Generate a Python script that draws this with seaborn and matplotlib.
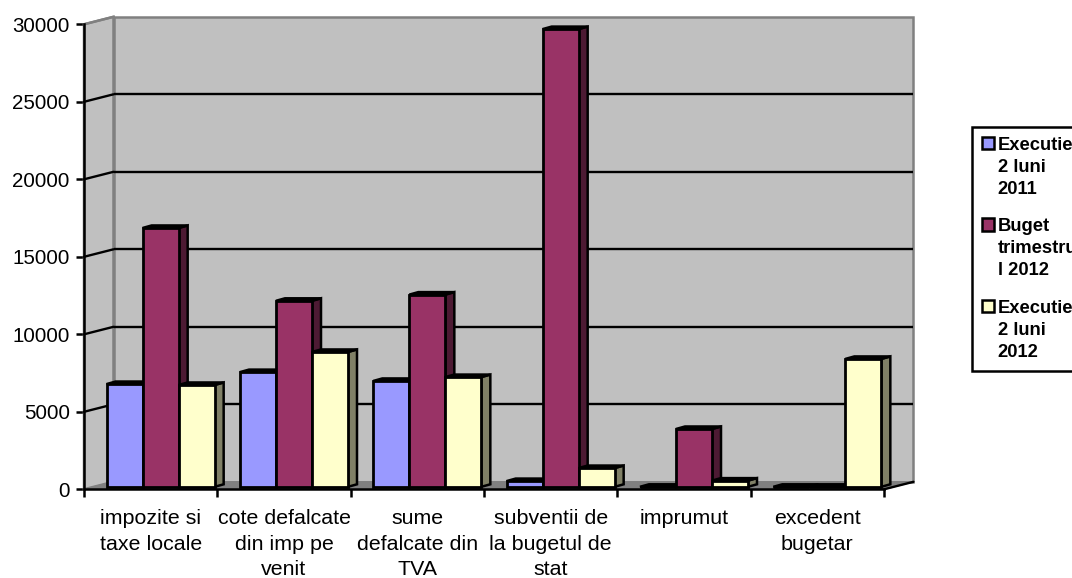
import matplotlib
matplotlib.use("Agg")
import matplotlib.pyplot as plt
from matplotlib.patches import Polygon
from matplotlib.transforms import Affine2D
from matplotlib.offsetbox import HPacker
import pandas as pd
import seaborn as sns

categories = ["impozite si\ntaxe locale", "cote defalcate\ndin imp pe\nvenit",
              "sume\ndefalcate din\nTVA", "subventii de\nla bugetul de\nstat",
              "imprumut", "excedent\nbugetar"]
series_names = ["Executie\n2 luni\n2011", "Buget\ntrimestru\nl 2012", "Executie\n2 luni\n2012"]
executie_2011 = [6630, 7400, 6830, 370, 0, 0]
buget_2012 = [16700, 12000, 12400, 29530, 3730, 0]
executie_2012 = [6570, 8700, 7080, 1210, 400, 8250]
y_ticks = [0, 5000, 10000, 15000, 20000, 25000, 30000]
colors = ["#9999FF", "#993366", "#FFFFCC"]
side_colors = ["#4D4D80", "#4D1A33", "#808066"]
top_colors = ["#7373BF", "#73264D", "#BFBF99"]

W, H = 1072, 578
sns.set_theme(style="white")
plt.rcParams["font.family"] = ["Liberation Sans", "DejaVu Sans"]

df = pd.DataFrame({
    "cat": categories * 3,
    "series": sum([[s] * len(categories) for s in series_names], []),
    "value": executie_2011 + buget_2012 + executie_2012,
})

fig = plt.figure(figsize=(W / 100, H / 100), dpi=100, facecolor="white")
ax = fig.add_axes([84 / W, (H - 489.3) / H, 800 / W, 465 / H])
sns.barplot(data=df, x="cat", y="value", hue="series", order=categories,
            hue_order=series_names, palette=colors, saturation=1, width=0.81,
            gap=0, edgecolor="black", linewidth=2.0, ax=ax, legend=True, err_kws={"linewidth": 0})
handles, labels = ax.get_legend_handles_labels()

ax.set_xlim(-0.5, 5.5)
ax.set_ylim(0, 30000)
ax.set_xlabel("")
ax.set_ylabel("")
ax.set_facecolor("none")
for s in ("top", "right"):
    ax.spines[s].set_visible(False)
for s in ("left", "bottom"):
    ax.spines[s].set_linewidth(1.8)
    ax.spines[s].set_color("black")
    ax.spines[s].set_zorder(60)

# pixel offsets of the 3D projection
wall = Affine2D().translate(29.5, 7.5)
wall_tr = ax.transData + wall
xl, xr = ax.get_xlim()
top = y_ticks[-1]

# walls and floor
ax.add_patch(Polygon([(xl, 0), (xr, 0), (xr, top), (xl, top)], closed=True, transform=wall_tr,
                     fc="#C0C0C0", ec="#808080", lw=1.8, clip_on=False, zorder=1))
to_disp = ax.transData.transform
def wall_edge(x, v):
    return wall_tr.transform((x, v))
ident = matplotlib.transforms.IdentityTransform()
ax.add_patch(Polygon([to_disp((xl, 0)), wall_edge(xl, 0), wall_edge(xl, top), to_disp((xl, top))],
                     closed=True, transform=ident, fc="#C0C0C0", ec="#808080", lw=1.8,
                     clip_on=False, zorder=1))
ax.add_patch(Polygon([to_disp((xl, 0)), to_disp((xr, 0)), wall_edge(xr, 0), wall_edge(xl, 0)],
                     closed=True, transform=ident, fc="#808080", ec="#808080", lw=1,
                     clip_on=False, zorder=1.5))
# gridlines
for v in y_ticks[1:-1]:
    ax.plot([xl, xr], [v, v], color="black", lw=1.7, transform=wall_tr, clip_on=False, zorder=2,
            solid_capstyle="butt")
for v in y_ticks[1:]:
    p0, p1 = to_disp((xl, v)), wall_edge(xl, v)
    ax.plot([p0[0], p1[0]], [p0[1], p1[1]], color="black" if v != top else "#808080", lw=1.7,
            transform=ident, clip_on=False, zorder=2)
# near-side floor edge on the right
p0, p1 = to_disp((xr, 0)), wall_edge(xr, 0)
ax.plot([p0[0], p1[0]], [p0[1], p1[1]], color="black", lw=1.7, transform=ident, clip_on=False, zorder=2)

# 3D bars built from the seaborn bar rectangles
front_shift = (10, 2.5)
depth = (9, 2.5)
for h, container in enumerate(ax.containers):
    for g, rect in enumerate(container):
        x0, x1 = rect.get_x(), rect.get_x() + rect.get_width()
        v = rect.get_height()
        base = 20 + 3 * g + h * 0.3
        a = to_disp((x0, 0)) + front_shift
        b = to_disp((x1, v)) + front_shift
        side = [(b[0], a[1]), (b[0] + depth[0], a[1] + depth[1]),
                (b[0] + depth[0], b[1] + depth[1]), (b[0], b[1])]
        roof = [(a[0], b[1]), (b[0], b[1]), (b[0] + depth[0], b[1] + depth[1]),
                (a[0] + depth[0], b[1] + depth[1])]
        ax.add_patch(Polygon(side, closed=True, transform=ident, fc=side_colors[h], ec="black",
                             lw=1.8, clip_on=False, zorder=base))
        ax.add_patch(Polygon(roof, closed=True, transform=ident, fc=top_colors[h], ec="black",
                             lw=1.8, clip_on=False, zorder=base))
        rect.set_transform(ax.transData + Affine2D().translate(*front_shift))
        rect.set_clip_on(False)
        rect.set_zorder(base + 0.1)
        rect.set_joinstyle("miter")

# ticks
ax.set_yticks(y_ticks)
ax.set_xticks([i - 0.5 for i in range(len(categories) + 1)])
ax.set_xticks(range(len(categories)), labels=categories, minor=True)
ax.tick_params(axis="x", which="major", length=6, width=1.8, labelbottom=False, bottom=True, color="black")
ax.tick_params(axis="x", which="minor", length=0, labelsize=15.4, pad=14.5, colors="black")
ax.tick_params(axis="y", length=6, width=1.8, labelsize=14.8, pad=4.2, left=True, colors="black")
for t in ax.get_xticklabels(minor=True):
    t.set_linespacing(1.42)
    t.set_verticalalignment("top")

# legend
leg = ax.legend(handles, labels, loc="upper left",
                bbox_to_anchor=(972 / W, 1 - 127 / H), bbox_transform=fig.transFigure,
                prop={"size": 13.2, "weight": "bold"}, labelcolor="black", frameon=True, fancybox=False,
                edgecolor="black", facecolor="white", framealpha=1, handlelength=0.65,
                handleheight=0.65, handletextpad=0.2, labelspacing=1.12, borderpad=0.55,
                borderaxespad=0)
leg.get_frame().set_linewidth(1.8)
leg.set_zorder(100)
for t in leg.get_texts():
    t.set_linespacing(1.38)
for hp in leg.findobj(HPacker):
    hp.align = "top"
for patch in leg.get_patches():
    patch.set_edgecolor("black")
    patch.set_linewidth(1.8)

fig.savefig("out.png", dpi=100)
